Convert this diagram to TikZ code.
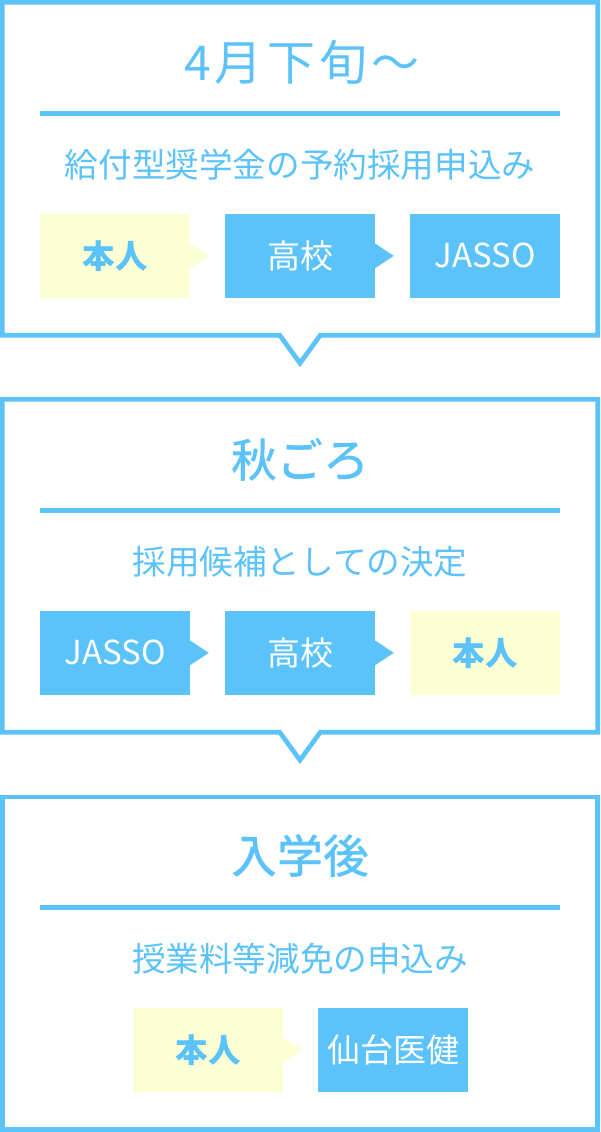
\documentclass[tikz,border=0pt]{standalone}
\usepackage{fontspec}
\setmainfont{Noto Sans CJK JP}
\newfontfamily\jpls[LetterSpace=9]{Noto Sans CJK JP}
\IfFontExistsTF{Noto Sans CJK JP Medium}
  {\newfontfamily\jpmed{Noto Sans CJK JP Medium}}
  {\newcommand\jpmed{\bfseries}}
\definecolor{skyb}{RGB}{91,195,250}
\definecolor{pale}{RGB}{252,254,212}
\begin{document}
\begin{tikzpicture}[x=1pt,y=-1pt,
  panel/.style={draw=skyb,line width=4.7pt,line join=miter},
  rulel/.style={draw=skyb,line width=4.7pt},
  title/.style={text=skyb,font=\fontsize{46}{50}\selectfont,inner sep=0pt},
  sub/.style={text=skyb,font=\fontsize{33.6}{36}\selectfont,inner sep=0pt},
  boxy/.style={fill=pale,text=skyb,font=\bfseries\fontsize{32.5}{34}\selectfont,minimum width=150pt,minimum height=83.7pt,inner sep=0pt},
  boxb/.style={fill=skyb,text=white,font=\fontsize{33}{34}\selectfont,minimum width=150pt,minimum height=83.7pt,inner sep=0pt},
  notchy/.style={fill=pale},
  notchb/.style={fill=skyb}]
\useasboundingbox[fill=white] (0,0) rectangle (600,1132);

% ---------- panel 1 ----------
\draw[panel] (2.35,2.35) -- (597.65,2.35) -- (597.65,335.15) -- (320.3,335.15) -- (300,363.15) -- (279.7,335.15) -- (2.35,335.15) -- cycle;
\node[title,font=\fontsize{48}{52}\selectfont] (t1) at (302,62.5) {\jpls 4月下旬～};
\coordinate (r1a) at (40,113.3); \coordinate (r1b) at (560,113.3);
\draw[rulel] (r1a) -- (r1b);
\node[sub] (s1) at (300,165) {給付型奨学金の予約採用申込み};
\node[boxy] (a1) at (115,255.85) {本人};
\node[boxb] (a2) at (300,255.85) {高校};
\node[boxb] (a3) at (485,255.85) {JASSO};
\fill[notchy] ([yshift=12.3pt]a1.east) -- ([xshift=18.6pt]a1.east) -- ([yshift=-12.3pt]a1.east) -- cycle;
\fill[notchb] ([yshift=12.3pt]a2.east) -- ([xshift=18.6pt]a2.east) -- ([yshift=-12.3pt]a2.east) -- cycle;

% ---------- panel 2 ----------
\draw[panel] (2.35,399.35) -- (597.65,399.35) -- (597.65,732.15) -- (320.3,732.15) -- (300,760.15) -- (279.7,732.15) -- (2.35,732.15) -- cycle;
\node[title,font=\jpmed\fontsize{46}{50}\selectfont] (t2) at (300,459.5) {秋ごろ};
\coordinate (r2a) at (40,510.3); \coordinate (r2b) at (560,510.3);
\draw[rulel] (r2a) -- (r2b);
\node[sub] (s2) at (300,562) {採用候補としての決定};
\node[boxb] (b1) at (115,652.85) {JASSO};
\node[boxb] (b2) at (300,652.85) {高校};
\node[boxy] (b3) at (485,652.85) {本人};
\fill[notchb] ([yshift=12.3pt]b1.east) -- ([xshift=18.6pt]b1.east) -- ([yshift=-12.3pt]b1.east) -- cycle;
\fill[notchb] ([yshift=12.3pt]b2.east) -- ([xshift=18.6pt]b2.east) -- ([yshift=-12.3pt]b2.east) -- cycle;

% ---------- panel 3 ----------
\draw[panel] (2.35,796.85) rectangle (597.65,1129.65);
\node[title,font=\jpmed\fontsize{46}{50}\selectfont] (t3) at (300,856) {入学後};
\coordinate (r3a) at (40,907.6); \coordinate (r3b) at (560,907.6);
\draw[rulel] (r3a) -- (r3b);
\node[sub] (s3) at (300,959) {授業料等減免の申込み};
\node[boxy] (c1) at (208,1049.85) {本人};
\node[boxb] (c2) at (393,1049.85) {仙台医健};
\fill[notchy] ([yshift=12.3pt]c1.east) -- ([xshift=19.3pt]c1.east) -- ([yshift=-12.3pt]c1.east) -- cycle;
\end{tikzpicture}
\end{document}
